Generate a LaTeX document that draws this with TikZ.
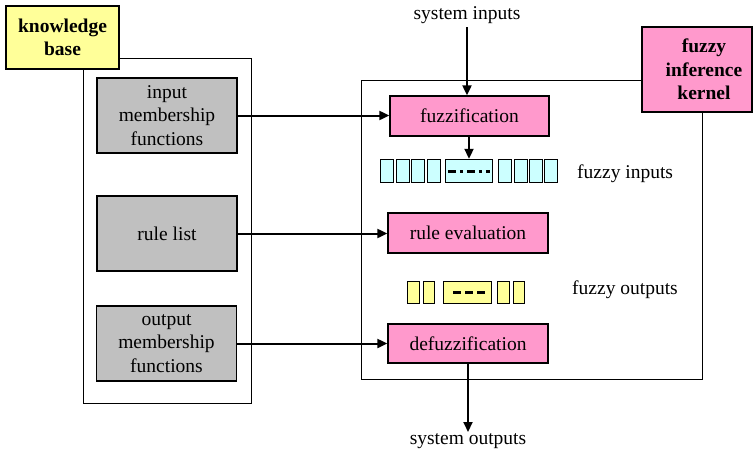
\documentclass[tikz,border=0pt]{standalone}
\usepackage{fontspec}
\setmainfont{Liberation Serif}
\newfontfamily\tnr{Liberation Serif}
\usetikzlibrary{arrows.meta}
\definecolor{kpink}{HTML}{FF99CC}
\definecolor{kyellow}{HTML}{FFFF99}
\definecolor{kcyan}{HTML}{CCFFFF}
\definecolor{kgray}{HTML}{C0C0C0}
\begin{document}
\begin{tikzpicture}[x=1pt,y=-1pt,
  every node/.style={font=\tnr\fontsize{19.5}{23.5}\selectfont, inner sep=0pt, align=center},
  box/.style={draw, line width=1.3pt, minimum width=#1},
  graybox/.style={box=140pt, fill=kgray, minimum height=75pt},
  pinkbox/.style={box=160pt, fill=kpink, minimum height=40pt},
  labelbox/.style={draw, line width=1.4pt, fill=#1, font=\tnr\fontsize{19.5}{23.5}\selectfont\bfseries},
  cell/.style={draw, line width=1.4pt, fill=#1, minimum height=23pt},
  frame/.style={draw, line width=1pt},
  arr/.style={line width=2pt, -{Triangle[length=10pt,width=9pt]}}
]
\useasboundingbox (0,0) rectangle (754,458);
% frames
\draw[frame] (83,58) rectangle (251,403);
\draw[frame] (361,80) rectangle (702,379);
% labels
\node[labelbox=kyellow, minimum width=113pt, minimum height=63pt] (kb) at (62.5,37.5) {knowledge\\base};
\node[labelbox=kpink, minimum width=110pt, minimum height=85pt] (kl) at (697,69.5) {\hspace*{14pt}fuzzy\\\hspace*{14pt}inference\\\hspace*{14pt}kernel};
% gray boxes
\node[graybox] (inmf) at (167,115.5) {input\\membership\\functions};
\node[graybox] (rules) at (167,233.5) {rule list};
\node[graybox] (outmf) at (166.5,343.5) {output\\membership\\functions};
% pink boxes
\node[pinkbox, minimum width=159pt] (fuzz) at (469.5,116) {fuzzification};
\node[pinkbox] (reval) at (468,233) {rule evaluation};
\node[pinkbox, minimum height=39pt] (defuzz) at (468,343.5) {defuzzification};
% fuzzy input cells
\foreach \n/\x in {1/387,2/403,3/418,4/434,5/505,6/521,7/536,8/551}
  \node[cell=kcyan, minimum width=12.5pt] (ci\n) at (\x,171) {};
\node[cell=kcyan, minimum width=47pt] (cib) at (469,171) {};
\draw[line width=3pt, dash pattern=on 8pt off 4pt on 3pt off 4pt] ([xshift=3pt]cib.west) -- ([xshift=-3pt]cib.east);
% fuzzy output cells
\foreach \n/\x/\w in {1/413.5/12,2/429/11,3/503.5/12,4/519/11}
  \node[cell=kyellow, minimum width=\w pt, minimum height=22pt] (co\n) at (\x,292.5) {};
\node[cell=kyellow, minimum width=48pt, minimum height=22pt] (cob) at (467.5,292.5) {};
\draw[line width=3pt, dash pattern=on 8pt off 4pt] ([xshift=-14.5pt]cob.center) -- ([xshift=17.5pt]cob.center);
% texts
\node[anchor=west] (fin) at (577,174) {fuzzy inputs};
\node[anchor=west] (fout) at (572,290) {fuzzy outputs};
\node (sin) at (467,15) {system inputs};
\node (sout) at (468,441) {system outputs};
% arrows
\coordinate (sinstart) at (467,27);
\draw[arr] (sinstart) -- (sinstart |- fuzz.north);
\draw[arr] (fuzz.south -| cib.north) -- (cib.north);
\draw[arr] (inmf.east) -- (inmf.east -| fuzz.west);
\draw[arr] (rules.east) -- (rules.east -| reval.west);
\draw[arr] (outmf.east) -- (outmf.east -| defuzz.west);
\coordinate (soutend) at (468,432);
\draw[arr] (defuzz.south) -- (soutend);
\end{tikzpicture}
\end{document}
